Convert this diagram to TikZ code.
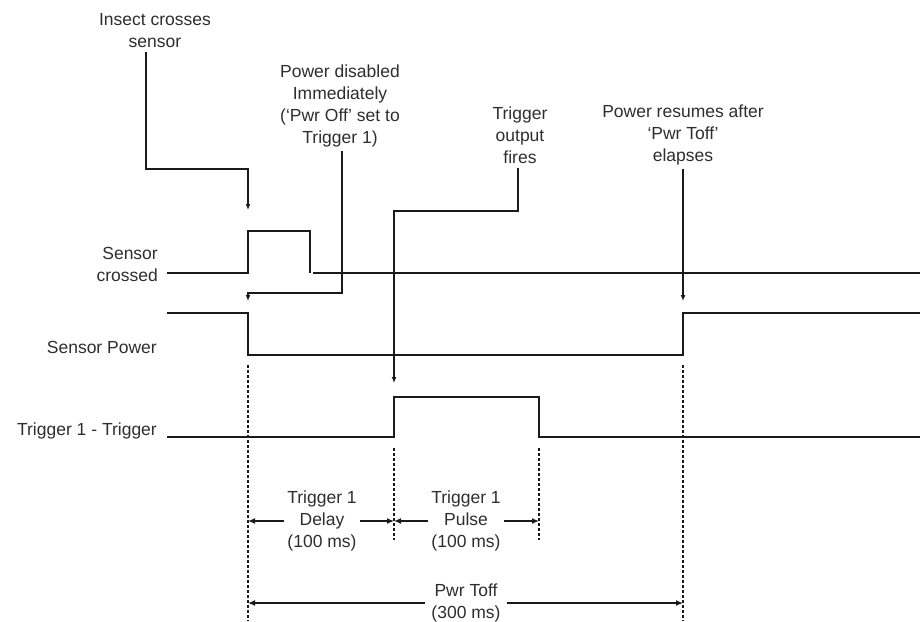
\documentclass[tikz,border=0pt]{standalone}
\usepackage{fontspec}
\setmainfont{Liberation Sans}
\usepackage{xcolor}
\definecolor{inkmain}{HTML}{1A1A1A}
\definecolor{inktext}{HTML}{2E2E2E}
\usetikzlibrary{arrows.meta, positioning, calc}

\begin{document}
\begin{tikzpicture}[
        x=1pt, y=-1pt,
        font=\fontsize{17.5}{22}\selectfont,
        note/.style={
            align=center,
            inner sep=4pt,
            text=inktext
        },
        siglabel/.style={
            anchor=east,
            align=right,
            inner sep=0pt,
            text=inktext
        },
        dimlabel/.style={
            align=center,
            inner sep=3pt,
            text=inktext
        },
        wave/.style={
            draw=inkmain,
            line width=1.6pt
        },
        lead/.style={
            -{Latex[length=6pt,width=5pt]},
            draw=inkmain,
            line width=1.5pt
        },
        dim/.style={
            -{Latex[length=7pt,width=6pt]},
            draw=inkmain,
            line width=1.3pt
        },
        guide/.style={
            draw=inkmain,
            line width=1.1pt,
            dash pattern=on 3pt off 2pt
        }
    ]

    \useasboundingbox (0,0) rectangle (920,621);

    % Signal names
    \node[siglabel] (lblcross) at (158,264) {Sensor\\crossed};
    \node[siglabel] (lblpower) at (157,347) {Sensor Power};
    \node[siglabel] (lbltrig)  at (157,431) {Trigger 1 - Trigger};

    % Waveforms
    \draw[wave] (167,273) -- (248,273) -- (248,231) -- (310,231) -- (310,273);
    \draw[wave] (313,273) -- (920,273);
    \draw[wave] (167,313) -- (248,313) -- (248,355) -- (683,355) -- (683,313) -- (920,313);
    \draw[wave] (167,437) -- (394,437) -- (394,397) -- (539,397) -- (539,437) -- (920,437);

    % Callouts
    \node[note] (insect) at (155,31) {Insect crosses\\sensor};
    \coordinate (insecttip) at (248,210);
    \draw[lead] ([xshift=-9pt]insect.south) |- ($(insecttip)+(0,-41)$) -- (insecttip);

    \node[note] (pwroff) at (340,106) {Power disabled\\Immediately\\(`Pwr Off' set to\\Trigger 1)};
    \coordinate (pwrofftip) at (248,301);
    \draw[lead] ([xshift=2pt]pwroff.south) |- ($(pwrofftip)+(0,-8)$) -- (pwrofftip);

    \node[note] (fires) at (520,135) {Trigger\\output\\fires};
    \coordinate (firestip) at (394,383);
    \draw[lead] ([xshift=-2pt]fires.south) |- ($(firestip)+(0,-172)$) -- (firestip);

    \node[note] (resume) at (683,135) {Power resumes after\\`Pwr Toff'\\elapses};
    \coordinate (resumetip) at (683,301);
    \draw[lead] (resume.south) -- (resumetip);

    % Timing guides
    \draw[guide] (248,365) -- (248,621);
    \draw[guide] (394,448) -- (394,540);
    \draw[guide] (539,448) -- (539,540);
    \draw[guide] (683,365) -- (683,621);

    % Intervals
    \node[dimlabel] (delay) at (322,521) {Trigger 1\\Delay\\(100 ms)};
    \draw[dim] (delay.west) -- (248,521);
    \draw[dim] (delay.east) -- (394,521);

    \node[dimlabel] (pulse) at (466,521) {Trigger 1\\Pulse\\(100 ms)};
    \draw[dim] (pulse.west) -- (394,521);
    \draw[dim] (pulse.east) -- (539,521);

    \node[dimlabel, inner sep=6pt] (toff) at (466,603) {Pwr Toff\\(300 ms)};
    \draw[dim] (toff.west) -- (248,603);
    \draw[dim] (toff.east) -- (683,603);

\end{tikzpicture}
\end{document}
